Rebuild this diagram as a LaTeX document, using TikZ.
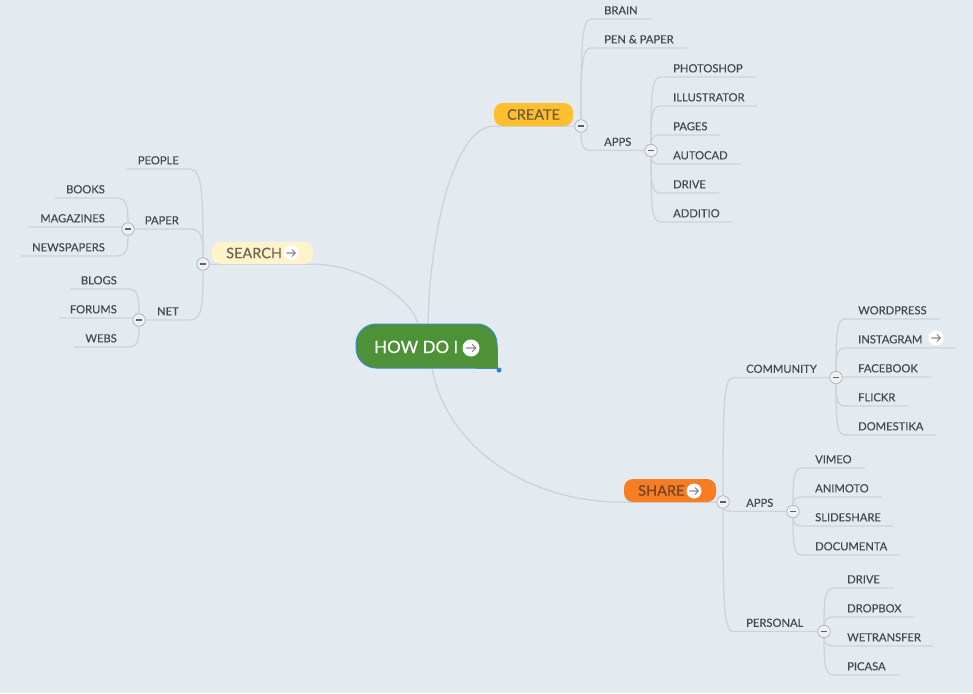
\documentclass[tikz,border=0pt]{standalone}
\usepackage{fontspec}
\setmainfont{Lato}[FakeBold=0.35]
\usetikzlibrary{calc}
\pgfdeclarelayer{bg}
\pgfsetlayers{bg,main}
\definecolor{bgc}{HTML}{E4EBF0}
\definecolor{linec}{HTML}{CDD3D8}
\definecolor{txt}{HTML}{474A4D}
\definecolor{creaf}{HTML}{FDBF2E}
\definecolor{creat}{HTML}{6B5A3E}
\definecolor{searf}{HTML}{FEF3CB}
\definecolor{seart}{HTML}{6E6551}
\definecolor{sharf}{HTML}{F67D22}
\definecolor{shart}{HTML}{6E4528}
\definecolor{howf}{HTML}{4D9236}
\definecolor{howb}{HTML}{3B8BCB}
\definecolor{collf}{HTML}{EEF0F2}
\definecolor{collb}{HTML}{B4B9BE}
\definecolor{colldark}{HTML}{5E6266}
\definecolor{arrc}{HTML}{8A8A8A}
\definecolor{dotc}{HTML}{2B83D0}
\begin{document}
\begin{tikzpicture}[x=1pt,y=-1pt,
  conn/.style={draw=linec, line width=1.3},
  br/.style={to path={.. controls ($(\tikztostart)!0.7!(\tikztostart |- \tikztotarget)$) and (\tikztostart |- \tikztotarget) .. (\tikztotarget)}},
  lf/.style={inner ysep=4.5, text height=8, text depth=0, font=\fontsize{11.2}{13}\selectfont, text=txt},
  lr/.style={lf, anchor=south west, inner xsep=13},
  ll/.style={lf, anchor=south east, inner xsep=11},
  mb/.style={rounded corners=9, minimum height=23, inner sep=0},
  mbt/.style={inner sep=0, text height=10.4, text depth=0, font=\fontsize{14.5}{16}\selectfont},
  icon/.style={circle, fill=white, minimum size=15, inner sep=0},
  arr/.pic={\draw[arrc, line width=1.1, line cap=round, line join=round] (-4.3,0) -- (4.3,0) (1,-3.3) -- (4.3,0) -- (1,3.3);},
  coll/.style={circle, minimum size=12.5, inner sep=0, fill=collf, draw=collb, line width=0.8,
    path picture={\draw[colldark, line width=1.2] ([xshift=-2.8pt]path picture bounding box.center) -- ([xshift=2.8pt]path picture bounding box.center);}}
]
\useasboundingbox (0,0) rectangle (973,693);
\begin{pgfonlayer}{bg}
\fill[bgc] (0,0) rectangle (973,693);
\end{pgfonlayer}

% central node
\node[rounded corners=20, minimum width=141, minimum height=44, inner sep=0, fill=howf, draw=howb, line width=1] (how) at (426.5,346) {};
\fill[howf] ($(how.south east)+(-22,0)$) rectangle ($(how.south east)+(0,-22)$);
\draw[howb, line width=1] ($(how.south east)+(-22,0)$) -- (how.south east) -- ($(how.south east)+(0,-22)$);
\node[inner sep=0, text height=12, text depth=0, font=\fontsize{17}{19}\selectfont, text=white, anchor=west] (howt) at (374,347) {HOW DO I};
\node[icon, minimum size=17] (howa) at (471,348) {};
\pic[scale=1.15] at (howa) {arr};
\node[circle, fill=dotc, minimum size=5, inner sep=0] (hdot) at (499,370) {};
\coordinate (hc) at ($(how.north)+(1.5,0)$);
\coordinate (hs) at ($(how.north)+(-8.5,0)$);
\coordinate (hh) at ($(how.south)+(5.5,0)$);

% main branches
\node[mb, fill=creaf, minimum width=79] (create) at (533.5,114.5) {};
\node[mbt, text=creat] (createt) at (create.center) {CREATE};
\node[mb, fill=searf, minimum width=101, minimum height=22] (search) at (262.5,253) {};
\node[mbt, text=seart, anchor=west] (searcht) at (226,253) {SEARCH};
\node[icon] (searcha) at (291,253) {};
\pic at (searcha) {arr};
\node[mb, fill=sharf, minimum width=92] (share) at (670,490.5) {};
\node[mbt, text=shart, anchor=west] (sharet) at (638,490.5) {SHARE};
\node[icon] (sharea) at (694,491) {};
\pic at (sharea) {arr};

% collapse circles
\node[coll] (cC) at (581,126) {};
\node[coll] (cCA) at (651,150.5) {};
\node[coll] (cS) at (203,264) {};
\node[coll] (cSP) at (128,229) {};
\node[coll] (cSN) at (139,320) {};
\node[coll] (cH) at (723,502) {};
\node[coll] (cHC) at (836,377.5) {};
\node[coll] (cHA) at (793,511.5) {};
\node[coll] (cHP) at (824,631.5) {};

% create leaves
\node[lr] (brain) at (591,19) {BRAIN};
\node[lr] (pen) at (591,48) {PEN \& PAPER};
\node[lr] (capps) at (591,150.5) {APPS};
\node[lr] (photoshop) at (660,77) {PHOTOSHOP};
\node[lr] (illustrator) at (660,106) {ILLUSTRATOR};
\node[lr] (pages) at (660,135) {PAGES};
\node[lr] (autocad) at (660,164) {AUTOCAD};
\node[lr] (cdrive) at (660,193) {DRIVE};
\node[lr] (additio) at (660,222) {ADDITIO};

% share leaves
\node[lr] (community) at (733,377.5) {COMMUNITY};
\node[lr] (sapps) at (733,511.5) {APPS};
\node[lr] (personal) at (733,631.5) {PERSONAL};
\node[lr] (wordpress) at (845,319) {WORDPRESS};
\node[lr] (instagram) at (845,348) {INSTAGRAM};
\node[icon] (instaa) at (936,338) {};
\pic at (instaa) {arr};
\coordinate (igend) at (955,348);
\node[lr] (facebook) at (845,377) {FACEBOOK};
\node[lr] (flickr) at (845,406) {FLICKR};
\node[lr] (domestika) at (845,435) {DOMESTIKA};
\node[lr] (vimeo) at (802,468) {VIMEO};
\node[lr] (animoto) at (802,497) {ANIMOTO};
\node[lr] (slideshare) at (802,526) {SLIDESHARE};
\node[lr] (documenta) at (802,555) {DOCUMENTA};
\node[lr] (pdrive) at (834,588) {DRIVE};
\node[lr] (dropbox) at (834,617) {DROPBOX};
\node[lr] (wetransfer) at (834,646) {WETRANSFER};
\node[lr] (picasa) at (834,675) {PICASA};

% search leaves
\node[ll] (people) at (190,169) {PEOPLE};
\node[ll] (paper) at (190,229) {PAPER};
\node[ll] (net) at (190,320) {NET};
\node[ll] (books) at (116,198) {BOOKS};
\node[ll] (magazines) at (116,227) {MAGAZINES};
\node[ll] (newspapers) at (116,256) {NEWSPAPERS};
\node[ll] (blogs) at (128,289) {BLOGS};
\node[ll] (forums) at (128,318) {FORUMS};
\node[ll] (webs) at (128,347) {WEBS};

\begin{pgfonlayer}{bg}
\path[conn] (hc) .. controls +(2,-94) and +(-39,0) .. (create.south west) -- (create.south east) -- (cC.center);
\path[conn] (hs) .. controls +(-8,-27) and +(47,0) .. (search.south east) -- (search.south west) -- (cS.center);
\path[conn] (hh) .. controls +(13,72) and +(-104,0) .. (share.south west) -- (share.south east) -- (cH.center);

\path[conn] (cC.center) to[br] (brain.south west) -- (brain.south east);
\path[conn] (cC.center) to[br] (pen.south west) -- (pen.south east);
\path[conn] (cC.center) to[br] (capps.south west) -- (cCA.center);
\foreach \n in {photoshop,illustrator,pages,autocad,cdrive,additio}
  \path[conn] (cCA.center) to[br] (\n.south west) -- (\n.south east);

\path[conn] (cH.center) to[br] (community.south west) -- (cHC.center);
\path[conn] (cH.center) to[br] (sapps.south west) -- (cHA.center);
\path[conn] (cH.center) to[br] (personal.south west) -- (cHP.center);
\foreach \n in {wordpress,facebook,flickr,domestika}
  \path[conn] (cHC.center) to[br] (\n.south west) -- (\n.south east);
\path[conn] (cHC.center) to[br] (instagram.south west) -- (igend);
\foreach \n in {vimeo,animoto,slideshare,documenta}
  \path[conn] (cHA.center) to[br] (\n.south west) -- (\n.south east);
\foreach \n in {pdrive,dropbox,wetransfer,picasa}
  \path[conn] (cHP.center) to[br] (\n.south west) -- (\n.south east);

\path[conn] (cS.center) to[br] (people.south east) -- (people.south west);
\path[conn] (cS.center) to[br] (paper.south east) -- (cSP.center);
\path[conn] (cS.center) to[br] (net.south east) -- (cSN.center);
\foreach \n in {books,magazines,newspapers}
  \path[conn] (cSP.center) to[br] (\n.south east) -- (\n.south west);
\foreach \n in {blogs,forums,webs}
  \path[conn] (cSN.center) to[br] (\n.south east) -- (\n.south west);
\end{pgfonlayer}
\end{tikzpicture}
\end{document}
